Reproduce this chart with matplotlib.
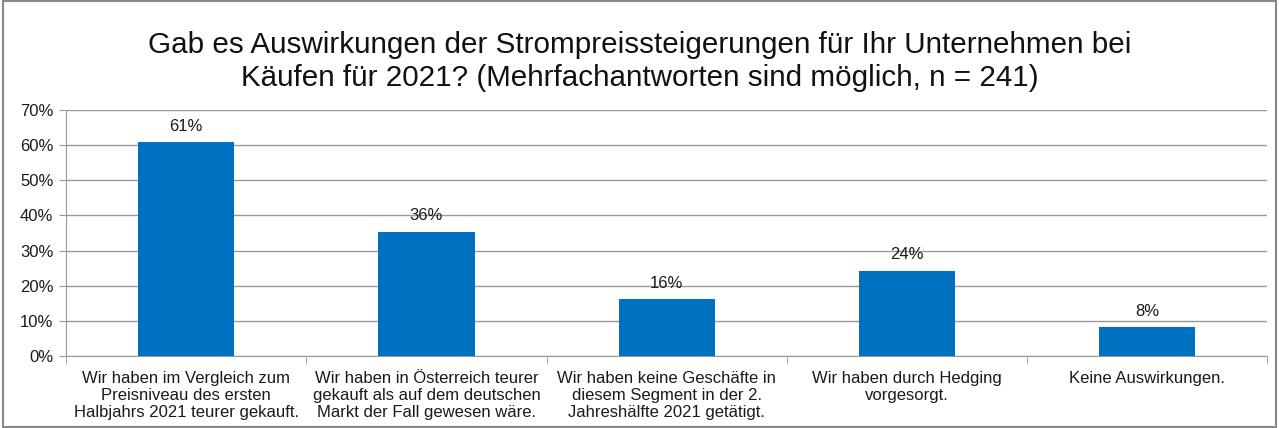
import matplotlib
matplotlib.use("Agg")
import matplotlib.pyplot as plt
from matplotlib.patches import Rectangle
import numpy as np

plt.rcParams['font.family'] = ['Liberation Sans', 'DejaVu Sans']

categories = [
    "Wir haben im Vergleich zum\nPreisniveau des ersten\nHalbjahrs 2021 teurer gekauft.",
    "Wir haben in Österreich teurer\ngekauft als auf dem deutschen\nMarkt der Fall gewesen wäre.",
    "Wir haben keine Geschäfte in\ndiesem Segment in der 2.\nJahreshälfte 2021 getätigt.",
    "Wir haben durch Hedging\nvorgesorgt.",
    "Keine Auswirkungen.",
]
values = [60.9, 35.4, 16.2, 24.3, 8.3]
labels = ["61%", "36%", "16%", "24%", "8%"]
title = "Gab es Auswirkungen der Strompreissteigerungen für Ihr Unternehmen bei\nKäufen für 2021? (Mehrfachantworten sind möglich, n = 241)"

fig = plt.figure(figsize=(12.79, 4.28), dpi=100)
ax = fig.add_axes([0.0516, 0.168, 0.9394, 0.575])

x = np.arange(len(categories))
ax.bar(x, values, width=0.4, color="#0070C0", zorder=3)
for xi, v, lab in zip(x, values, labels):
    ax.annotate(lab, (xi, v), xytext=(0, 6), textcoords="offset points",
                ha="center", va="bottom", fontsize=12, color="#1a1a1a")

ax.set_xlim(-0.5, len(categories) - 0.5)
ax.set_ylim(0, 70)
ax.set_yticks(np.arange(0, 71, 10))
ax.set_yticklabels([f"{t}%" for t in range(0, 71, 10)], fontsize=12, color="#1a1a1a")
ax.yaxis.grid(True, color="#999999", linewidth=1, zorder=0)
ax.set_xticks(x)
ax.set_xticklabels(categories, fontsize=12, color="#1a1a1a", linespacing=1.14)
ax.tick_params(axis='x', length=0, pad=11)
ax.set_xticks(np.arange(-0.5, len(categories)), minor=True)
ax.tick_params(axis='x', which='minor', length=6, color="#999999")
ax.tick_params(axis='y', length=5, color="#999999", pad=4)
for s in ["top", "right"]:
    ax.spines[s].set_visible(False)
for s in ["left", "bottom"]:
    ax.spines[s].set_color("#999999")

fig.text(0.5, 0.786, title, ha="center", va="bottom", fontsize=21.3, color="#111111", linespacing=1.22)

fig.patches.append(Rectangle((0.002, 0.002), 0.996, 0.996, transform=fig.transFigure,
                             fill=False, edgecolor="#888888", linewidth=1.5))

fig.savefig("out.png", dpi=100)
